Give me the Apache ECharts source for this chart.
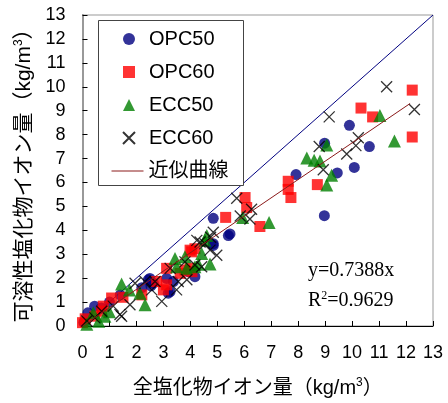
<!DOCTYPE html>
<html>
<head>
<meta charset="utf-8">
<script src="https://cdn.jsdelivr.net/npm/echarts@6/dist/echarts.min.js"></script>
<style>html,body{margin:0;padding:0;background:#fff}#c{width:448px;height:403px}</style>
</head>
<body>
<div id="c"></div>
<script>
const SANS = '"Liberation Sans", Arial, "Noto Sans CJK JP", sans-serif';
const SERIF = '"Liberation Serif", "Times New Roman", serif';

const markerNames = ['OPC50', 'OPC60', 'ECC50', 'ECC60'];
const fitName = '近似曲線';
const xTitle = '全塩化物イオン量（kg/m';
const yTitle = '可溶性塩化物イオン量（kg/m';

const opc50 = [[0.05,0.15],[0.2,0.55],[0.45,0.83],[0.7,0.75],[1.0,1.0],[1.4,1.3],[2.2,1.6],
  [2.44,1.93],[2.63,1.79],[2.54,1.68],[2.5,1.99],[3.12,1.99],[3.37,1.86],[3.18,1.37],[3.25,1.44],
  [3.93,2.27],[4.17,2.06],[4.85,3.37],[4.85,3.44],[5.41,3.78],[5.47,3.85],[4.85,4.5],
  [7.92,6.33],[8.97,4.61],[8.98,7.64],[9.45,6.4],[9.9,8.39],[10.08,6.63],[10.64,7.5]];
const opc60 = [[0.0,0.14],[0.1,0.3],[0.46,0.41],[0.71,0.62],[0.77,0.83],[1.08,1.17],[1.5,1.2],[2.2,1.3],
  [2.75,1.86],[3.12,1.72],[3.0,1.51],[3.12,2.41],[3.62,2.2],[3.8,2.34],[3.99,2.41],[4.05,3.1],
  [4.06,2.27],[3.99,3.17],[4.17,3.23],[5.31,4.54],[6.03,5.37],[6.09,4.95],[6.58,4.16],
  [7.63,6.05],[7.63,5.71],[7.73,5.37],[8.71,5.91],[10.33,9.11],[10.76,8.74],[12.23,9.86],[12.23,7.9]];
const ecc50 = [[0.16,0.07],[0.4,0.55],[0.6,0.2],[0.83,0.41],[1.0,0.6],[1.45,1.76],[1.74,1.51],[2.13,1.37],
  [2.32,0.89],[3.43,2.82],[3.8,2.89],[3.49,2.48],[4.17,2.48],[3.86,2.41],[4.3,2.58],[4.73,2.59],
  [4.42,3.03],[4.61,3.78],[4.54,3.58],[5.94,4.54],[6.92,4.33],[8.32,7.02],[8.59,6.93],[8.81,6.9],
  [9.06,7.57],[9.24,6.3],[9.06,5.89],[11.03,8.8],[11.57,7.73]];
const ecc60 = [[0.16,0.21],[0.46,0.34],[0.71,0.62],[1.14,0.83],[1.39,0.48],[1.45,0.41],[1.76,0.89],
  [1.95,1.79],[2.32,1.86],[2.69,1.86],[2.57,1.51],[2.94,1.03],[3.49,1.51],[3.25,2.41],[3.87,1.93],
  [3.55,1.86],[3.8,2.68],[4.17,2.55],[4.42,2.48],[4.24,3.58],[4.54,3.44],[4.73,3.17],[4.98,2.96],
  [4.36,3.51],[4.75,3.71],[4.85,3.92],[5.72,5.34],[6.27,4.88],[6.21,4.47],[5.85,4.6],[8.78,7.5],
  [8.93,6.53],[9.15,8.74],[9.8,7.19],[10.14,7.54],[10.23,7.87],[11.28,10.0],[12.31,9.05]];
const fitLine = [[0,0],[12.15,9.3]];
const equalLine = [[0,0],[13,13]];
const eqText = 'y=0.7388x';
const r2Text = '=0.9629';

const FIT_COLOR = '#8B1A1A';
const chart = echarts.init(document.getElementById('c'), null, {renderer:'canvas'});
const scat = (name, data, symbol, size, style) => ({
  name, type:'scatter', data, symbol, symbolSize:size, itemStyle:style, z:3, silent:true
});
const titleRich = (fs) => ({a:{fontSize:fs, fontFamily:SANS, color:'#000'}, s:{fontSize:12, fontFamily:SANS, color:'#000', padding:[0,0,10,0]}});
const option = {
  animation:false,
  backgroundColor:'#fff',
  grid:{left:82.5, right:15, top:15, bottom:73, show:true, borderColor:'#999', borderWidth:1},
  xAxis:[{
    type:'value', min:0, max:13, interval:1,
    axisLine:{show:true, onZero:false, lineStyle:{color:'#000', width:1}},
    axisTick:{show:true, inside:true, length:5, lineStyle:{color:'#000'}},
    splitLine:{show:false},
    axisLabel:{fontSize:18, color:'#000', fontFamily:SANS, margin:18},
    name:'{a|' + xTitle + '}{s|3}{a|）}', nameLocation:'middle', nameGap:51,
    nameTextStyle:{rich:titleRich(20)}
  }],
  yAxis:[{
    type:'value', min:0, max:13, interval:1,
    axisLine:{show:true, onZero:false, lineStyle:{color:'#000', width:1}},
    axisTick:{show:true, inside:true, length:5, lineStyle:{color:'#000'}},
    splitLine:{show:false},
    axisLabel:{fontSize:18, color:'#000', fontFamily:SANS, margin:17},
    name:'{a|' + yTitle + '}{s|3}{a|）}', nameLocation:'middle', nameGap:46,
    nameTextStyle:{rich:titleRich(21)}
  },{
    type:'value', min:0, max:13, position:'right',
    axisLine:{show:true, lineStyle:{color:'#999', width:2}},
    axisTick:{show:false}, axisLabel:{show:false}, splitLine:{show:false}
  }],
  legend:[{
    orient:'vertical', left:122, top:29, padding:0, itemGap:13,
    itemWidth:12, itemHeight:12,
    textStyle:{fontSize:20, fontFamily:SANS, color:'#000', lineHeight:20, padding:[0,0,0,9]},
    data:markerNames, z:10
  },{
    orient:'vertical', left:111, top:161, padding:0,
    itemWidth:32, itemHeight:12,
    textStyle:{fontSize:20, fontFamily:SANS, color:'#000', lineHeight:20},
    data:[{name:fitName, itemStyle:{color:'rgba(0,0,0,0)', borderWidth:0, opacity:0}, lineStyle:{color:FIT_COLOR, width:1, opacity:1}}], z:10
  }],
  series:[
    {name:'y=x', type:'line', data:equalLine, symbol:'none', lineStyle:{color:'#000080', width:1}, z:2, silent:true},
    scat('OPC50', opc50, 'circle', 11, {color:'#000080'}),
    scat('OPC60', opc60, 'rect', 11, {color:'#FF0000'}),
    scat('ECC50', ecc50, 'triangle', 13, {color:'#008000'}),
    scat('ECC60', ecc60, 'path://M0,0L10,10M10,0L0,10', 11, {color:'rgba(0,0,0,0)', borderColor:'#000', borderWidth:1.3}),
    {name:fitName, type:'line', data:fitLine, symbol:'none', lineStyle:{color:FIT_COLOR, width:1}, itemStyle:{color:FIT_COLOR}, z:4, silent:true}
  ],
  graphic:[
    {type:'rect', left:98, top:20, z:5, shape:{width:145, height:165}, style:{fill:'#fff', stroke:'#444', lineWidth:1}},
    {type:'text', left:308, top:261, z:6, style:{text:eqText, font:'20px ' + SERIF, fill:'#000'}},
    {type:'text', left:308, top:290, z:6, style:{text:'{r|R}{s|2}{r|' + r2Text + '}', rich:{r:{font:'20px ' + SERIF, fill:'#000'}, s:{font:'12px ' + SERIF, fill:'#000', padding:[0,0,9,0]}}}}
  ]
};
chart.setOption(option);
</script>
</body>
</html>
